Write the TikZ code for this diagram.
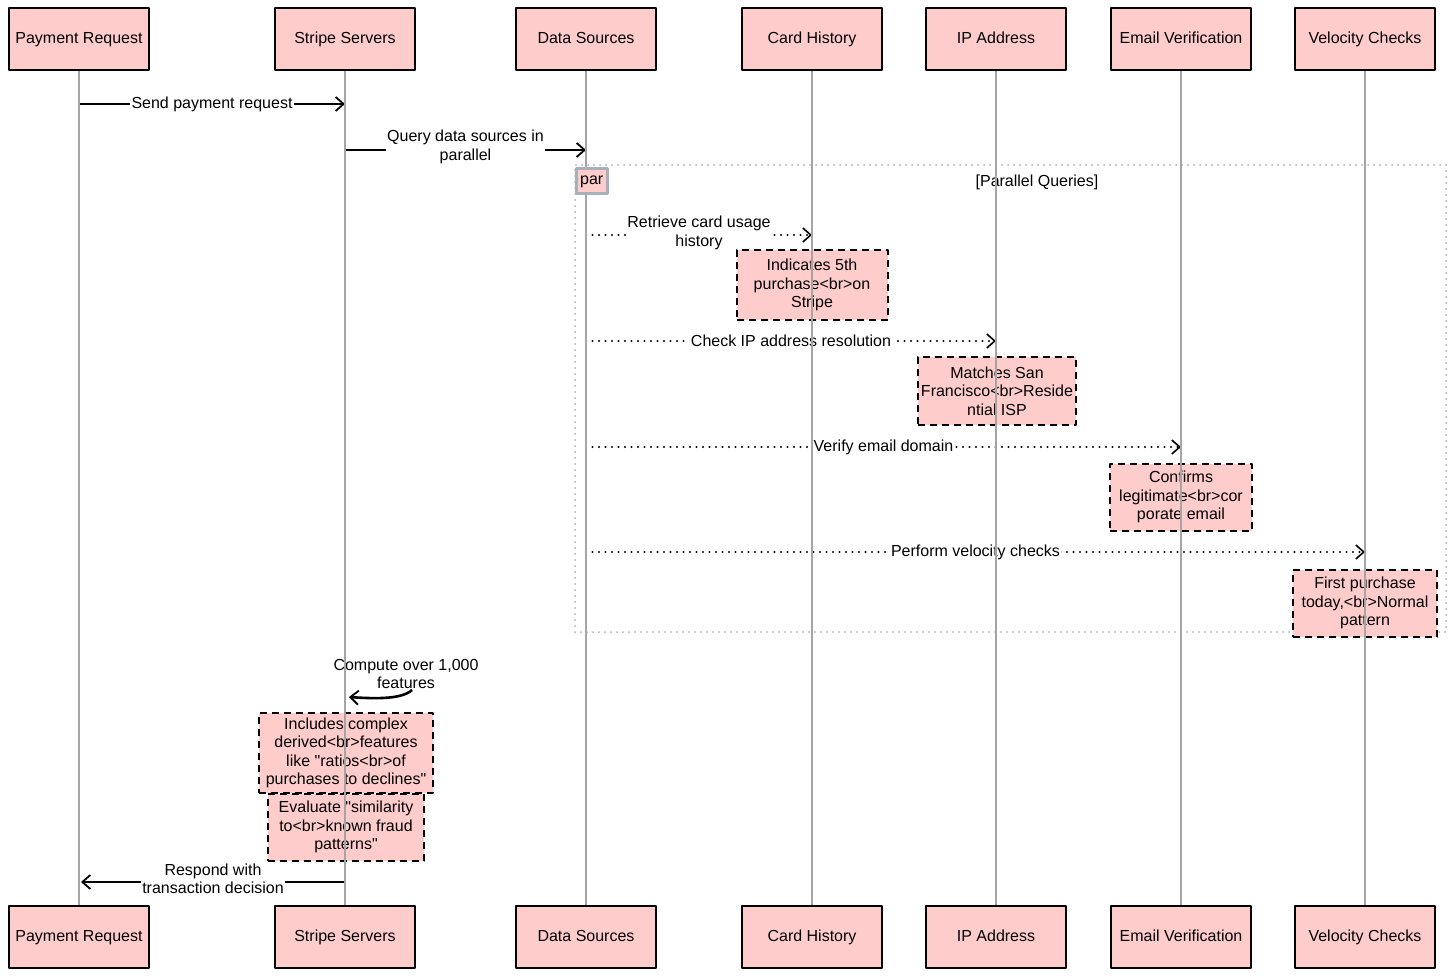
\documentclass[tikz,border=0pt]{standalone}
\usepackage{fontspec}
\setmainfont{Liberation Sans}[Ligatures=TeXOff]
\usetikzlibrary{arrows.meta}
\definecolor{notepink}{RGB}{255,204,204}
\definecolor{lifegray}{RGB}{165,165,165}
\definecolor{framegray}{RGB}{168,176,186}
\tikzset{
  actor/.style={draw=black, line width=2.2pt, fill=notepink, minimum width=140pt, minimum height=62pt, text height=11.5pt, text depth=3.5pt, font=\fontsize{16}{19}\selectfont},
  note/.style={draw=black, line width=2pt, dash pattern=on 7pt off 5pt, fill=notepink, align=center, inner sep=2pt, font=\fontsize{16}{18.5}\selectfont},
  msg/.style={line width=2.6pt, -{Straight Barb[length=8pt, width=14pt, line width=1.8pt]}},
  reply/.style={line width=2.4pt, line cap=round, dash pattern=on 0pt off 6.5pt, -{Straight Barb[length=8pt, width=14pt, line width=1.6pt]}},
  msglabel/.style={fill=white, inner sep=1.5pt, align=center, font=\fontsize{16}{18.5}\selectfont},
  lifeline/.style={draw=lifegray, line width=1.2pt},
  parframe/.style={draw=framegray, line width=2pt, line cap=round, dash pattern=on 0pt off 6pt, minimum width=871pt, minimum height=467pt},
  partag/.style={draw=framegray, line width=2.5pt, fill=notepink, minimum width=31pt, minimum height=25pt, inner sep=1pt, text height=10pt, text depth=3pt, font=\fontsize{16}{18}\selectfont},
}
\begin{document}
\begin{tikzpicture}[x=1pt, y=-1pt, line join=round]
  \useasboundingbox (0,0) rectangle (1456,977);
  % Actors, top and bottom
  \foreach \a/\x [count=\i] in {Payment Request/79, Stripe Servers/345, Data Sources/586, Card History/812, IP Address/996, Email Verification/1181, Velocity Checks/1365} {
    \node [actor] (top-\i) at (\x, 39) {\a};
    \node [actor] (bot-\i) at (\x, 937) {\a};
  }
  % Parallel block
  \node [parframe] (par-frame) at (1010.5, 398.5) {};
  \node [font=\fontsize{16}{18}\selectfont] (par-title) at (1037, 182) {[Parallel Queries]};
  % Message end points
  \foreach \n/\xa/\xb/\y in {send/79/345/104, query/345/586/150, card/586/812/235, ip/586/996/341, email/586/1181/447, velo/586/1365/552, respond/345/81/882} {
    \coordinate (\n-a) at (\xa, \y);
    \coordinate (\n-b) at (\xb, \y);
  }
  % Messages
  \draw [msg] (send-a) -- node [msglabel] {Send payment request} (send-b);
  \draw [msg] (query-a) -- node [msglabel, yshift=3pt] {Query data sources in\\parallel} (query-b);
  \draw [reply] (card-a) -- node [msglabel, yshift=2pt] {Retrieve card usage\\history} (card-b);
  \draw [reply] (ip-a) -- node [msglabel] {Check IP address resolution} (ip-b);
  \draw [reply] (email-a) -- node [msglabel] {Verify email domain} (email-b);
  \draw [reply] (velo-a) -- node [msglabel] {Perform velocity checks} (velo-b);
  % Self message
  \node [msglabel, fill=none] (self-label) at (406, 674) {Compute over 1,000\\features};
  \coordinate (self-a) at (412, 690);
  \coordinate (self-b) at (349, 697);
  \draw [msg] (self-a) .. controls (402, 699) and (378, 699) .. (self-b);
  \draw [msg] (respond-a) -- node [msglabel, yshift=3pt] {Respond with\\transaction decision} (respond-b);
  % Notes
  \node [note, minimum width=151pt, minimum height=70pt] (note-card) at (812, 285) {Indicates 5th\\purchase<br>on\\Stripe};
  \node [note, minimum width=158pt, minimum height=68pt] (note-ip) at (997, 391) {Matches San\\Francisco<br>Reside\\ntial ISP};
  \node [note, minimum width=142pt, minimum height=67pt] (note-email) at (1181, 497) {Confirms\\legitimate<br>cor\\porate email};
  \node [note, minimum width=144pt, minimum height=67pt] (note-velo) at (1365, 603) {First purchase\\today,<br>Normal\\pattern};
  \node [note, minimum width=174pt, minimum height=80pt] (note-feat) at (346, 753) {Includes complex\\derived<br>features\\like "ratios<br>of\\purchases to declines"};
  \node [note, minimum width=156pt, minimum height=67pt] (note-fraud) at (346, 827) {Evaluate "similarity\\to<br>known fraud\\patterns"};
  % Lifelines
  \foreach \i in {1, ..., 7}
    \draw [lifeline] (top-\i) -- (bot-\i);
  \node [partag, anchor=north west] (par-tag) at ([shift={(1, 3)}]par-frame.north west) {par};
\end{tikzpicture}
\end{document}
